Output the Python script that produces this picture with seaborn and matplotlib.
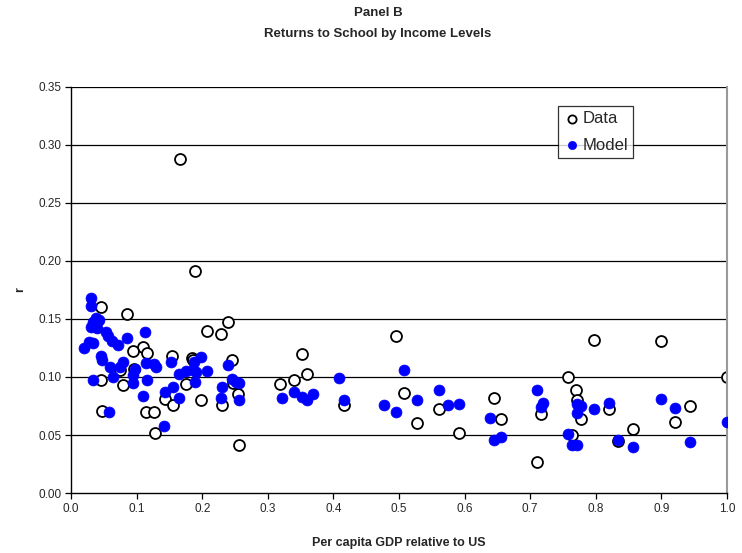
import matplotlib
matplotlib.use("Agg")
import matplotlib.pyplot as plt
import seaborn as sns
import pandas as pd

# ---- Data (open circles) ----
data_x = [0.166, 0.189, 0.045, 0.086, 0.240, 0.207, 0.229, 0.109, 0.094, 0.116,
          0.154, 0.185, 0.186, 0.246, 0.074, 0.096, 0.045, 0.080, 0.176, 0.247,
          0.318, 0.255, 0.143, 0.156, 0.198, 0.230, 0.047, 0.115, 0.127, 0.128,
          0.256, 0.340, 0.352, 0.360, 0.416, 0.495, 0.507, 0.527, 0.561, 0.591,
          0.645, 0.656, 0.798, 0.899, 0.758, 1.000, 0.770, 0.772, 0.716, 0.777,
          0.820, 0.944, 0.920, 0.857, 0.763, 0.834, 0.710]
data_y = [0.288, 0.191, 0.160, 0.154, 0.147, 0.140, 0.137, 0.126, 0.122, 0.121,
          0.118, 0.116, 0.115, 0.115, 0.106, 0.107, 0.097, 0.093, 0.094, 0.095,
          0.094, 0.085, 0.081, 0.076, 0.080, 0.076, 0.071, 0.070, 0.070, 0.052,
          0.041, 0.097, 0.120, 0.103, 0.076, 0.135, 0.086, 0.060, 0.072, 0.052,
          0.082, 0.064, 0.132, 0.131, 0.100, 0.100, 0.089, 0.080, 0.068, 0.064,
          0.072, 0.075, 0.061, 0.055, 0.050, 0.045, 0.027]

# ---- Model (filled blue) ----
model_x = [0.030, 0.030, 0.038, 0.043, 0.034, 0.031, 0.039, 0.053, 0.057, 0.062,
           0.072, 0.086, 0.113, 0.020, 0.027, 0.034, 0.046, 0.048, 0.059, 0.075,
           0.080, 0.115, 0.127, 0.129, 0.153, 0.064, 0.095, 0.034, 0.187, 0.198,
           0.207, 0.165, 0.176, 0.186, 0.190, 0.189, 0.240, 0.246, 0.252, 0.256,
           0.098, 0.095, 0.116, 0.143, 0.155, 0.109, 0.164, 0.230, 0.229, 0.256,
           0.058, 0.142, 0.321, 0.340, 0.352, 0.360, 0.369, 0.408, 0.416, 0.477,
           0.495, 0.507, 0.527, 0.561, 0.574, 0.591, 0.638, 0.645, 0.656, 0.710,
           0.719, 0.716, 0.758, 0.763, 0.771, 0.772, 0.778, 0.772, 0.798, 0.820,
           0.834, 0.857, 0.899, 0.920, 0.944, 1.000]
model_y = [0.168, 0.161, 0.151, 0.149, 0.147, 0.143, 0.142, 0.139, 0.135, 0.131,
           0.128, 0.134, 0.139, 0.125, 0.130, 0.129, 0.118, 0.115, 0.109, 0.109,
           0.113, 0.112, 0.111, 0.109, 0.113, 0.100, 0.102, 0.097, 0.113, 0.117,
           0.105, 0.103, 0.105, 0.106, 0.104, 0.096, 0.110, 0.098, 0.096, 0.095,
           0.107, 0.095, 0.097, 0.087, 0.091, 0.084, 0.082, 0.091, 0.082, 0.080,
           0.070, 0.058, 0.082, 0.087, 0.083, 0.080, 0.085, 0.099, 0.080, 0.076,
           0.070, 0.106, 0.080, 0.089, 0.076, 0.077, 0.065, 0.046, 0.048, 0.089,
           0.078, 0.074, 0.051, 0.041, 0.041, 0.077, 0.075, 0.069, 0.072, 0.078,
           0.046, 0.040, 0.081, 0.073, 0.044, 0.061]

x_ticks = [0.0, 0.1, 0.2, 0.3, 0.4, 0.5, 0.6, 0.7, 0.8, 0.9, 1.0]
y_ticks = [0.00, 0.05, 0.10, 0.15, 0.20, 0.25, 0.30, 0.35]

df = pd.concat([
    pd.DataFrame({"x": data_x, "y": data_y, "series": "Data"}),
    pd.DataFrame({"x": model_x, "y": model_y, "series": "Model"}),
], ignore_index=True)

sns.set_style("white")
plt.rcParams["font.family"] = ["Liberation Sans", "DejaVu Sans"]

fig = plt.figure(figsize=(7.42, 5.53), dpi=100)
ax = fig.add_axes([71/742, 1 - 493/553, (727 - 71)/742, (493 - 87)/553])

for yt in y_ticks[1:]:
    ax.axhline(yt, color="black", lw=0.9, zorder=0)

sns.scatterplot(data=df[df.series == "Data"], x="x", y="y", ax=ax,
                marker="o", s=62, facecolor="white", edgecolor="black",
                linewidth=1.3, zorder=2, label="Data")
sns.scatterplot(data=df[df.series == "Model"], x="x", y="y", ax=ax,
                marker="o", s=62, color="#0000ff", edgecolor="#0000ff",
                linewidth=0.5, zorder=3, label="Model")

ax.set_xlim(0, 1.0)
ax.set_ylim(0, 0.35)
ax.set_xticks(x_ticks)
ax.set_xticklabels([f"{v:.1f}" for v in x_ticks])
ax.set_yticks(y_ticks)
ax.set_yticklabels([f"{v:.2f}" for v in y_ticks])
ax.tick_params(axis="both", labelsize=8.5, direction="out", length=4,
               width=0.9, color="black", left=True, bottom=True, pad=3)

for side in ["left", "bottom"]:
    ax.spines[side].set_color("black")
    ax.spines[side].set_linewidth(1.0)
ax.spines["top"].set_visible(False)
ax.spines["right"].set_color("#999999")
ax.spines["right"].set_linewidth(1.5)

ax.set_xlabel("Per capita GDP relative to US", fontsize=9, fontweight="bold", labelpad=16)
ax.set_ylabel("r", fontsize=9, fontweight="bold", labelpad=9)

leg = ax.legend(loc="upper left", bbox_to_anchor=((558 - 71)/656, (493 - 106)/406),
                frameon=True, fancybox=False, edgecolor="black", fontsize=12,
                handletextpad=0.05, borderpad=0.3, labelspacing=0.7,
                handlelength=1.1, borderaxespad=0, markerscale=0.75)
leg.get_frame().set_linewidth(0.9)

fig.text(378/742, 1 - 13/553, "Panel B", ha="center", va="center",
         fontsize=9.5, fontweight="bold")
fig.text(378/742, 1 - 34/553, "Returns to School by Income Levels", ha="center",
         va="center", fontsize=9.5, fontweight="bold")

fig.savefig("out.png", dpi=100, facecolor="white")
